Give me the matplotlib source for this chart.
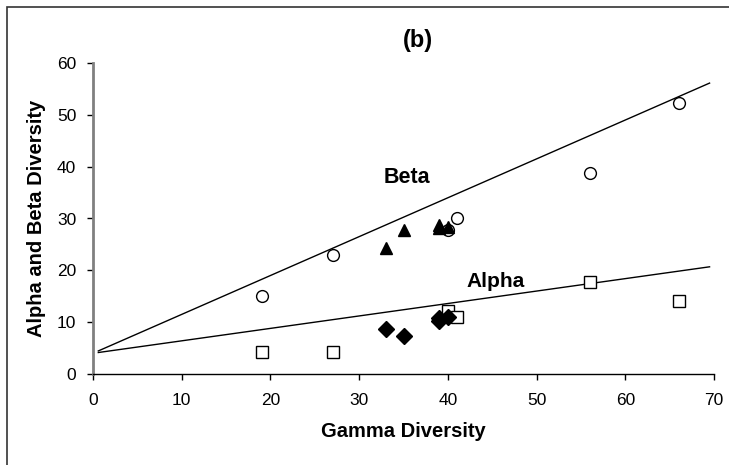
import matplotlib.pyplot as plt
from matplotlib.patches import Rectangle

plt.rcParams['font.family'] = ['Liberation Sans', 'DejaVu Sans']

# Beta diversity (open circles / filled triangles)
beta_open_x = [19, 27, 40, 41, 56, 66]
beta_open_y = [15.0, 23.0, 27.8, 30.0, 38.7, 52.3]
beta_fill_x = [33, 35, 39, 39, 40]
beta_fill_y = [24.3, 27.7, 28.2, 28.8, 28.3]

# Alpha diversity (open squares / filled diamonds)
alpha_open_x = [19, 27, 40, 41, 56, 66]
alpha_open_y = [4.3, 4.3, 12.2, 11.0, 17.7, 14.0]
alpha_fill_x = [33, 35, 39, 39, 40]
alpha_fill_y = [8.7, 7.4, 10.3, 10.8, 11.0]

# Fitted lines: intercept, slope
beta_fit = (4.0, 0.75)
alpha_fit = (4.0, 0.24)
fit_x = [0.6, 69.5]


def main():
    fig = plt.figure(figsize=(7.29, 4.65), dpi=100)
    fig.patches.append(Rectangle((7 / 729, -0.1), 1.2, 1 - 7 / 465 + 0.1,
                                 transform=fig.transFigure, fill=False,
                                 edgecolor='#333333', linewidth=1.2))
    ax = fig.add_axes([93 / 729, 1 - 374 / 465, (714 - 93) / 729, (374 - 63) / 465])

    for b, m in (beta_fit, alpha_fit):
        ax.plot(fit_x, [b + m * x for x in fit_x], color='black', lw=1.0, zorder=2)

    ax.plot(beta_open_x, beta_open_y, 'o', ms=8.5, mfc='white', mec='black', mew=1.0, zorder=3)
    ax.plot(beta_fill_x, beta_fill_y, '^', ms=9, color='black', zorder=3)
    ax.plot(alpha_open_x, alpha_open_y, 's', ms=8.5, mfc='white', mec='black', mew=1.0, zorder=3)
    ax.plot(alpha_fill_x, alpha_fill_y, 'D', ms=8, color='black', zorder=3)

    ax.text(35.4, 36.9, 'Beta', fontsize=15.5, fontweight='bold', ha='center', va='baseline')
    ax.text(45.4, 16.7, 'Alpha', fontsize=15, fontweight='bold', ha='center', va='baseline')

    ax.set_xlim(0, 70)
    ax.set_ylim(0, 60)
    ax.set_xticks(range(0, 71, 10))
    ax.set_yticks(range(0, 61, 10))
    ax.tick_params(labelsize=12.5, length=4, width=1, direction='out')
    ax.tick_params(axis='y', pad=8)
    ax.tick_params(axis='x', pad=9.5)
    ax.spines['top'].set_visible(False)
    ax.spines['right'].set_visible(False)
    ax.spines['left'].set_color('#808080')
    ax.spines['left'].set_linewidth(2)
    ax.spines['bottom'].set_linewidth(1)

    ax.set_xlabel('Gamma Diversity', fontsize=14.5, fontweight='bold', labelpad=10)
    ax.set_ylabel('Alpha and Beta Diversity', fontsize=14.5, fontweight='bold', labelpad=8)
    fig.text(418 / 729, 1 - 41 / 465, '(b)', fontsize=17, fontweight='bold',
             ha='center', va='center')

    fig.savefig('out.png', dpi=100)


if __name__ == '__main__':
    main()
